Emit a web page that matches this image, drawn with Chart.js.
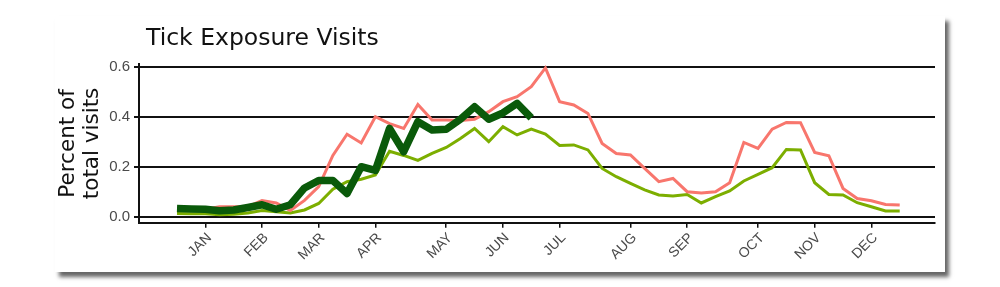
<!DOCTYPE html>
<html>
<head>
<meta charset="utf-8">
<script src="https://cdn.jsdelivr.net/npm/chart.js@4"></script>
<style>
  html, body { margin: 0; padding: 0; background: #fff; }
  #wrap { position: relative; width: 1000px; height: 287px; overflow: hidden; }
  #card {
    position: absolute; left: 55px; top: 16px; width: 890px; height: 256px;
    background: #fff; box-shadow: 4px 5px 4px rgba(0, 0, 0, 0.6);
  }
  #chart { position: absolute; left: 0; top: 0; }
</style>
</head>
<body>
<div id="wrap">
  <div id="card"></div>
  <canvas id="chart" width="1000" height="287"></canvas>
</div>
<script>
// semana do ano
const weeks = [1, 2, 3, 4, 5, 6, 7, 8, 9, 10, 11, 12, 13, 14, 15, 16, 17, 18, 19, 20, 21, 22, 23, 24, 25, 26,
  27, 28, 29, 30, 31, 32, 33, 34, 35, 36, 37, 38, 39, 40, 41, 42, 43, 44, 45, 46, 47, 48, 49, 50, 51, 52];

const monthWeeks = [3, 7, 11, 15, 20, 24, 28, 33, 37, 42, 46, 50];
const monthLabels = ['JAN', 'FEB', 'MAR', 'APR', 'MAY', 'JUN', 'JUL', 'AUG', 'SEP', 'OCT', 'NOV', 'DEC'];
const yTicks = [0, 0.2, 0.4, 0.6];

const pinkSeries = [0.03, 0.03, 0.03, 0.04, 0.04, 0.04, 0.065, 0.055, 0.025, 0.065, 0.12, 0.245, 0.33, 0.295,
  0.40, 0.372, 0.353, 0.449, 0.387, 0.387, 0.385, 0.39, 0.42, 0.46, 0.48, 0.52, 0.595, 0.46, 0.447, 0.413,
  0.293, 0.253, 0.247, 0.193, 0.14, 0.153, 0.10, 0.095, 0.10, 0.136, 0.297, 0.273, 0.35, 0.377, 0.376,
  0.257, 0.244, 0.113, 0.073, 0.064, 0.049, 0.047];

const lightGreenSeries = [0.013, 0.012, 0.012, 0.008, 0.01, 0.015, 0.025, 0.02, 0.015, 0.027, 0.053, 0.11,
  0.14, 0.15, 0.167, 0.262, 0.245, 0.225, 0.253, 0.277, 0.313, 0.353, 0.30, 0.36, 0.327, 0.35, 0.33, 0.285,
  0.287, 0.267, 0.193, 0.16, 0.133, 0.107, 0.087, 0.083, 0.089, 0.055, 0.08, 0.103, 0.143, 0.169, 0.196,
  0.269, 0.267, 0.136, 0.089, 0.087, 0.056, 0.04, 0.023, 0.023];

const darkGreenSeries = [0.033, 0.031, 0.03, 0.024, 0.027, 0.037, 0.048, 0.03, 0.048, 0.115, 0.145, 0.145,
  0.093, 0.2, 0.185, 0.353, 0.26, 0.38, 0.347, 0.35, 0.39, 0.44, 0.39, 0.415, 0.453, 0.395];

function pts(values) {
  return values.map((v, i) => ({ x: weeks[i], y: v }));
}

// titulo desenhado no canvas
const titlePlugin = {
  id: 'titleText',
  afterDraw(chart) {
    const ctx = chart.ctx;
    ctx.save();
    ctx.font = '23.5px "DejaVu Sans"';
    ctx.fillStyle = '#111';
    ctx.textBaseline = 'alphabetic';
    ctx.fillText('Tick Exposure Visits', 146, 45);
    ctx.restore();
  }
};

const ctx = document.getElementById('chart').getContext('2d');
new Chart(ctx, {
  type: 'line',
  data: {
    datasets: [
      {
        label: 'dark',
        data: pts(darkGreenSeries),
        borderColor: '#0a5a0a',
        borderWidth: 7.5,
        borderJoinStyle: 'round',
        pointRadius: 0,
        tension: 0
      },
      {
        label: 'pink',
        data: pts(pinkSeries),
        borderColor: '#f8766d',
        borderWidth: 3,
        pointRadius: 0,
        tension: 0
      },
      {
        label: 'light',
        data: pts(lightGreenSeries),
        borderColor: '#7cae00',
        borderWidth: 3,
        pointRadius: 0,
        tension: 0
      }
    ]
  },
  options: {
    responsive: false,
    animation: false,
    devicePixelRatio: 1,
    layout: { padding: { top: 64.2, right: 65, bottom: 0, left: 0 } },
    plugins: {
      legend: { display: false },
      tooltip: { enabled: false },
      title: { display: false }
    },
    scales: {
      x: {
        type: 'linear',
        min: -1.68,
        max: 54.49,
        afterFit: (scale) => { scale.height = 64.3; },
        afterBuildTicks: (scale) => { scale.ticks = monthWeeks.map(v => ({ value: v })); },
        ticks: {
          autoSkip: false,
          maxRotation: 45,
          minRotation: 45,
          padding: 2,
          labelOffset: 4,
          color: '#4a4a4a',
          font: { family: 'Liberation Sans', size: 14 },
          callback: (v) => monthLabels[monthWeeks.indexOf(v)]
        },
        grid: { drawOnChartArea: false, drawTicks: true, tickLength: 5, color: '#111', lineWidth: 1.5 },
        border: { display: true, color: '#111', width: 2 }
      },
      y: {
        min: -0.024,
        max: 0.61,
        afterFit: (scale) => { scale.width = 139; },
        afterBuildTicks: (scale) => { scale.ticks = yTicks.map(v => ({ value: v })); },
        ticks: {
          padding: 4,
          color: '#4a4a4a',
          font: { family: 'Liberation Sans', size: 15 },
          callback: (v) => v.toFixed(1)
        },
        grid: { color: '#111', lineWidth: 2, tickLength: 5, drawTicks: true },
        border: { display: true, color: '#111', width: 2 },
        title: {
          display: true,
          text: ['Percent of', 'total visits'],
          color: '#111',
          font: { family: 'DejaVu Sans', size: 21.5, lineHeight: '24px' },
          padding: { top: 56, bottom: 0 }
        }
      }
    }
  },
  plugins: [titlePlugin]
});
</script>
</body>
</html>
